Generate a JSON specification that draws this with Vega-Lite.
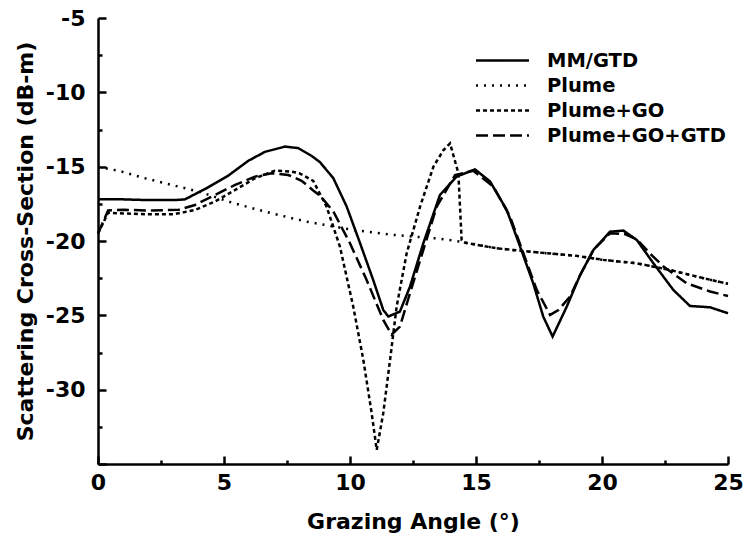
{
  "$schema": "https://vega.github.io/schema/vega-lite/v6.json",
  "width": 630,
  "height": 446,
  "autosize": {"type": "none"},
  "padding": {"left": 98, "top": 18, "right": 15, "bottom": 76},
  "background": "white",
  "config": {"view": {"stroke": null}, "font": "DejaVu Sans"},
  "data": {"values": [
    {"series": "MM/GTD", "angle": 0, "rcs": -17.2},
    {"series": "MM/GTD", "angle": 1, "rcs": -17.2},
    {"series": "MM/GTD", "angle": 2, "rcs": -17.25},
    {"series": "MM/GTD", "angle": 3, "rcs": -17.25},
    {"series": "MM/GTD", "angle": 3.45, "rcs": -17.2},
    {"series": "MM/GTD", "angle": 4.25, "rcs": -16.5},
    {"series": "MM/GTD", "angle": 5.17, "rcs": -15.6},
    {"series": "MM/GTD", "angle": 5.97, "rcs": -14.6},
    {"series": "MM/GTD", "angle": 6.63, "rcs": -14.0},
    {"series": "MM/GTD", "angle": 7.42, "rcs": -13.65},
    {"series": "MM/GTD", "angle": 7.94, "rcs": -13.75},
    {"series": "MM/GTD", "angle": 8.48, "rcs": -14.28},
    {"series": "MM/GTD", "angle": 8.81, "rcs": -14.7},
    {"series": "MM/GTD", "angle": 9.34, "rcs": -15.78},
    {"series": "MM/GTD", "angle": 9.87, "rcs": -17.69},
    {"series": "MM/GTD", "angle": 10.4, "rcs": -20.15},
    {"series": "MM/GTD", "angle": 10.92, "rcs": -22.62},
    {"series": "MM/GTD", "angle": 11.32, "rcs": -24.64},
    {"series": "MM/GTD", "angle": 11.52, "rcs": -25.08},
    {"series": "MM/GTD", "angle": 11.98, "rcs": -24.75},
    {"series": "MM/GTD", "angle": 12.38, "rcs": -23.07},
    {"series": "MM/GTD", "angle": 12.91, "rcs": -20.15},
    {"series": "MM/GTD", "angle": 13.57, "rcs": -16.9},
    {"series": "MM/GTD", "angle": 14.23, "rcs": -15.67},
    {"series": "MM/GTD", "angle": 14.96, "rcs": -15.18},
    {"series": "MM/GTD", "angle": 15.56, "rcs": -16.0},
    {"series": "MM/GTD", "angle": 16.22, "rcs": -17.91},
    {"series": "MM/GTD", "angle": 16.75, "rcs": -20.38},
    {"series": "MM/GTD", "angle": 17.27, "rcs": -22.84},
    {"series": "MM/GTD", "angle": 17.67, "rcs": -25.09},
    {"series": "MM/GTD", "angle": 18.04, "rcs": -26.43},
    {"series": "MM/GTD", "angle": 18.6, "rcs": -24.42},
    {"series": "MM/GTD", "angle": 19.13, "rcs": -22.3},
    {"series": "MM/GTD", "angle": 19.66, "rcs": -20.6},
    {"series": "MM/GTD", "angle": 20.32, "rcs": -19.37},
    {"series": "MM/GTD", "angle": 20.85, "rcs": -19.3},
    {"series": "MM/GTD", "angle": 21.38, "rcs": -19.93},
    {"series": "MM/GTD", "angle": 22.04, "rcs": -21.5},
    {"series": "MM/GTD", "angle": 22.83, "rcs": -23.29},
    {"series": "MM/GTD", "angle": 23.49, "rcs": -24.37},
    {"series": "MM/GTD", "angle": 24.29, "rcs": -24.46},
    {"series": "MM/GTD", "angle": 25, "rcs": -24.86},

    {"series": "Plume", "angle": 0, "rcs": -15.0},
    {"series": "Plume", "angle": 0.87, "rcs": -15.3},
    {"series": "Plume", "angle": 1.87, "rcs": -15.78},
    {"series": "Plume", "angle": 3.19, "rcs": -16.34},
    {"series": "Plume", "angle": 4.05, "rcs": -16.7},
    {"series": "Plume", "angle": 5.37, "rcs": -17.45},
    {"series": "Plume", "angle": 6.83, "rcs": -18.11},
    {"series": "Plume", "angle": 8.28, "rcs": -18.7},
    {"series": "Plume", "angle": 10.13, "rcs": -19.26},
    {"series": "Plume", "angle": 11.72, "rcs": -19.59},
    {"series": "Plume", "angle": 13.6, "rcs": -19.85},
    {"series": "Plume", "angle": 14.4, "rcs": -20.05},
    {"series": "Plume", "angle": 15.82, "rcs": -20.49},
    {"series": "Plume", "angle": 17.14, "rcs": -20.72},
    {"series": "Plume", "angle": 18.99, "rcs": -21.0},
    {"series": "Plume", "angle": 20.05, "rcs": -21.27},
    {"series": "Plume", "angle": 21.38, "rcs": -21.5},
    {"series": "Plume", "angle": 22.7, "rcs": -21.95},
    {"series": "Plume", "angle": 24.02, "rcs": -22.5},
    {"series": "Plume", "angle": 25, "rcs": -22.88},

    {"series": "Plume+GO", "angle": 0, "rcs": -19.5},
    {"series": "Plume+GO", "angle": 0.4, "rcs": -18.1},
    {"series": "Plume+GO", "angle": 1, "rcs": -18.15},
    {"series": "Plume+GO", "angle": 2, "rcs": -18.2},
    {"series": "Plume+GO", "angle": 3, "rcs": -18.2},
    {"series": "Plume+GO", "angle": 3.85, "rcs": -17.91},
    {"series": "Plume+GO", "angle": 4.64, "rcs": -17.35},
    {"series": "Plume+GO", "angle": 5.44, "rcs": -16.57},
    {"series": "Plume+GO", "angle": 6.23, "rcs": -15.78},
    {"series": "Plume+GO", "angle": 7.02, "rcs": -15.27},
    {"series": "Plume+GO", "angle": 7.68, "rcs": -15.33},
    {"series": "Plume+GO", "angle": 8.0, "rcs": -15.45},
    {"series": "Plume+GO", "angle": 8.54, "rcs": -15.95},
    {"series": "Plume+GO", "angle": 9.07, "rcs": -17.69},
    {"series": "Plume+GO", "angle": 9.6, "rcs": -20.38},
    {"series": "Plume+GO", "angle": 10.13, "rcs": -24.42},
    {"series": "Plume+GO", "angle": 10.53, "rcs": -28.0},
    {"series": "Plume+GO", "angle": 10.86, "rcs": -31.58},
    {"series": "Plume+GO", "angle": 11.06, "rcs": -34.05},
    {"series": "Plume+GO", "angle": 11.32, "rcs": -31.58},
    {"series": "Plume+GO", "angle": 11.59, "rcs": -28.0},
    {"series": "Plume+GO", "angle": 11.85, "rcs": -24.42},
    {"series": "Plume+GO", "angle": 12.25, "rcs": -20.82},
    {"series": "Plume+GO", "angle": 12.78, "rcs": -17.69},
    {"series": "Plume+GO", "angle": 13.31, "rcs": -15.0},
    {"series": "Plume+GO", "angle": 13.7, "rcs": -13.9},
    {"series": "Plume+GO", "angle": 13.97, "rcs": -13.43},
    {"series": "Plume+GO", "angle": 14.3, "rcs": -15.44},
    {"series": "Plume+GO", "angle": 14.43, "rcs": -19.93},
    {"series": "Plume+GO", "angle": 14.5, "rcs": -20.1},
    {"series": "Plume+GO", "angle": 15.82, "rcs": -20.49},
    {"series": "Plume+GO", "angle": 17.14, "rcs": -20.72},
    {"series": "Plume+GO", "angle": 18.99, "rcs": -21.0},
    {"series": "Plume+GO", "angle": 20.05, "rcs": -21.27},
    {"series": "Plume+GO", "angle": 21.38, "rcs": -21.5},
    {"series": "Plume+GO", "angle": 22.7, "rcs": -21.95},
    {"series": "Plume+GO", "angle": 24.02, "rcs": -22.5},
    {"series": "Plume+GO", "angle": 25, "rcs": -22.88},

    {"series": "Plume+GO+GTD", "angle": 0, "rcs": -19.5},
    {"series": "Plume+GO+GTD", "angle": 0.4, "rcs": -17.95},
    {"series": "Plume+GO+GTD", "angle": 1, "rcs": -17.9},
    {"series": "Plume+GO+GTD", "angle": 2, "rcs": -17.95},
    {"series": "Plume+GO+GTD", "angle": 3.2, "rcs": -17.9},
    {"series": "Plume+GO+GTD", "angle": 3.85, "rcs": -17.58},
    {"series": "Plume+GO+GTD", "angle": 4.64, "rcs": -16.9},
    {"series": "Plume+GO+GTD", "angle": 5.44, "rcs": -16.23},
    {"series": "Plume+GO+GTD", "angle": 6.23, "rcs": -15.67},
    {"series": "Plume+GO+GTD", "angle": 6.89, "rcs": -15.44},
    {"series": "Plume+GO+GTD", "angle": 7.55, "rcs": -15.56},
    {"series": "Plume+GO+GTD", "angle": 8.08, "rcs": -15.95},
    {"series": "Plume+GO+GTD", "angle": 8.54, "rcs": -16.6},
    {"series": "Plume+GO+GTD", "angle": 8.81, "rcs": -16.95},
    {"series": "Plume+GO+GTD", "angle": 9.34, "rcs": -18.02},
    {"series": "Plume+GO+GTD", "angle": 10.0, "rcs": -20.15},
    {"series": "Plume+GO+GTD", "angle": 10.66, "rcs": -22.62},
    {"series": "Plume+GO+GTD", "angle": 11.32, "rcs": -25.31},
    {"series": "Plume+GO+GTD", "angle": 11.65, "rcs": -26.3},
    {"series": "Plume+GO+GTD", "angle": 11.98, "rcs": -25.76},
    {"series": "Plume+GO+GTD", "angle": 12.38, "rcs": -23.51},
    {"series": "Plume+GO+GTD", "angle": 12.91, "rcs": -20.6},
    {"series": "Plume+GO+GTD", "angle": 13.44, "rcs": -17.69},
    {"series": "Plume+GO+GTD", "angle": 14.17, "rcs": -15.56},
    {"series": "Plume+GO+GTD", "angle": 14.89, "rcs": -15.27},
    {"series": "Plume+GO+GTD", "angle": 15.69, "rcs": -16.34},
    {"series": "Plume+GO+GTD", "angle": 16.35, "rcs": -18.36},
    {"series": "Plume+GO+GTD", "angle": 16.88, "rcs": -20.82},
    {"series": "Plume+GO+GTD", "angle": 17.41, "rcs": -23.29},
    {"series": "Plume+GO+GTD", "angle": 17.94, "rcs": -24.97},
    {"series": "Plume+GO+GTD", "angle": 18.27, "rcs": -24.64},
    {"series": "Plume+GO+GTD", "angle": 18.73, "rcs": -23.74},
    {"series": "Plume+GO+GTD", "angle": 19.13, "rcs": -22.3},
    {"series": "Plume+GO+GTD", "angle": 19.66, "rcs": -20.6},
    {"series": "Plume+GO+GTD", "angle": 20.32, "rcs": -19.48},
    {"series": "Plume+GO+GTD", "angle": 20.91, "rcs": -19.53},
    {"series": "Plume+GO+GTD", "angle": 21.38, "rcs": -19.9},
    {"series": "Plume+GO+GTD", "angle": 22.0, "rcs": -21.0},
    {"series": "Plume+GO+GTD", "angle": 22.44, "rcs": -21.72},
    {"series": "Plume+GO+GTD", "angle": 23.36, "rcs": -22.84},
    {"series": "Plume+GO+GTD", "angle": 24.29, "rcs": -23.4},
    {"series": "Plume+GO+GTD", "angle": 25, "rcs": -23.7}
  ]},
  "mark": {"type": "line", "color": "black", "strokeWidth": 2.5},
  "encoding": {
    "x": {
      "field": "angle", "type": "quantitative",
      "scale": {"domain": [0, 25], "nice": false, "zero": false},
      "axis": {
        "values": [0, 2.5, 5, 7.5, 10, 12.5, 15, 17.5, 20, 22.5, 25],
        "labelExpr": "datum.value % 5 === 0 ? '' + datum.value : ''",
        "tickSize": {"condition": {"test": "datum.value % 5 === 0", "value": -8}, "value": -4},
        "tickColor": "black", "tickWidth": 2.5,
        "domainColor": "black", "domainWidth": 2.5,
        "grid": false, "labelFlush": false, "labelOverlap": false,
        "labelFont": "DejaVu Sans", "labelFontWeight": "bold", "labelFontSize": 22, "labelColor": "black",
        "labelPadding": 16,
        "title": "Grazing Angle (°)",
        "titleFont": "DejaVu Sans", "titleFontWeight": "bold", "titleFontSize": 22, "titleColor": "black",
        "titlePadding": 14
      }
    },
    "y": {
      "field": "rcs", "type": "quantitative",
      "scale": {"domain": [-35, -5], "nice": false, "zero": false},
      "axis": {
        "values": [-35, -32.5, -30, -27.5, -25, -22.5, -20, -17.5, -15, -12.5, -10, -7.5, -5],
        "labelExpr": "datum.value % 5 === 0 && datum.value > -35 ? '' + datum.value : ''",
        "tickSize": {"condition": {"test": "datum.value % 5 === 0", "value": -8}, "value": -4},
        "tickColor": "black", "tickWidth": 2.5,
        "domainColor": "black", "domainWidth": 2.5,
        "grid": false, "labelFlush": false, "labelOverlap": false,
        "labelFont": "DejaVu Sans", "labelFontWeight": "bold", "labelFontSize": 22, "labelColor": "black",
        "labelPadding": 21,
        "title": "Scattering Cross-Section (dB-m)",
        "titleFont": "DejaVu Sans", "titleFontWeight": "bold", "titleFontSize": 22, "titleColor": "black",
        "titlePadding": 8
      }
    },
    "strokeDash": {
      "field": "series", "type": "nominal",
      "scale": {"domain": ["MM/GTD", "Plume", "Plume+GO", "Plume+GO+GTD"], "range": [[1, 0], [2, 6], [4, 3], [12, 5]]},
      "legend": {
        "title": null, "orient": "none", "legendX": 390, "legendY": 28,
        "symbolType": "M-2,0H2", "symbolSize": 702, "symbolStrokeColor": "black", "symbolStrokeWidth": 2.5,
        "symbolFillColor": "transparent",
        "labelFont": "DejaVu Sans", "labelFontWeight": "bold", "labelFontSize": 19.5, "labelColor": "black",
        "labelLimit": 400,
        "labelOffset": 30, "rowPadding": 1, "padding": 0
      }
    }
  }
}
